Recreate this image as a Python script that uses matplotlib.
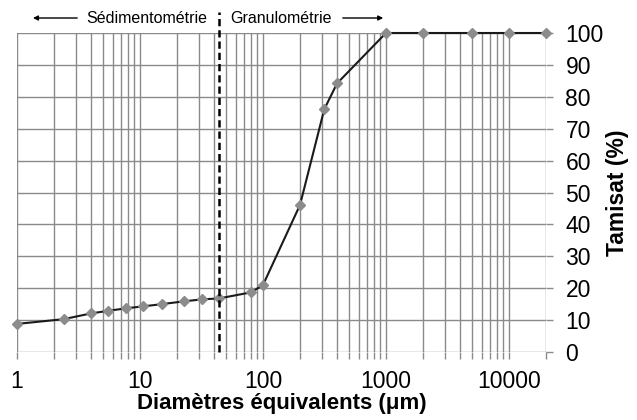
import matplotlib.pyplot as plt
from matplotlib.ticker import FixedLocator, NullFormatter

plt.rcParams['font.family'] = ['Liberation Sans', 'DejaVu Sans']

# sedimentometry points then sieve (granulometry) points
diam = [1, 2.4, 4, 5.5, 7.7, 10.6, 15, 23, 32, 44,
        80, 100, 200, 315, 400, 1000, 2000, 5000, 10000, 20000]
tamisat = [8.8, 10.3, 12.1, 12.9, 13.7, 14.3, 15.0, 15.9, 16.5, 16.8,
           18.7, 21, 46.1, 76.1, 84.2, 100, 100, 100, 100, 100]
limite = 44
xticks = [1, 10, 100, 1000, 10000]
xticklabels = ['1', '10', '100', '1000', '10000']
yticks = [0, 10, 20, 30, 40, 50, 60, 70, 80, 90, 100]

grid_col = '#8a8a8a'

fig = plt.figure(figsize=(6.37, 4.2), dpi=100)
ax = fig.add_axes([17/637, 1 - 352/420, (546 - 17)/637, (352 - 33)/420])
ax.set_xscale('log')
ax.set_xlim(1, 20000)
ax.set_ylim(0, 100)

ax.plot(diam, tamisat, color='#1a1a1a', lw=1.5, marker='D', ms=5.5,
        mfc='#8c8c8c', mec='#8c8c8c', clip_on=False, zorder=4)

ax.plot([limite, limite], [0, 106.6], color='black', lw=1.8,
        linestyle=(0, (2.9, 1.6)), clip_on=False, zorder=5)

ax.xaxis.set_major_locator(FixedLocator(xticks))
ax.set_xticklabels(xticklabels)
ax.xaxis.set_minor_formatter(NullFormatter())
ax.set_yticks(yticks)
ax.yaxis.tick_right()
ax.yaxis.set_label_position('right')

ax.grid(True, which='both', axis='x', color=grid_col, lw=1)
ax.grid(True, which='major', axis='y', color=grid_col, lw=1)
for s in ax.spines.values():
    s.set_visible(False)

ax.tick_params(axis='both', which='both', colors=grid_col, length=5, width=1,
               labelcolor='black', labelsize=16.5)
ax.tick_params(axis='x', which='major', pad=8)
ax.tick_params(axis='y', pad=9)
ax.tick_params(axis='y', which='minor', length=0)

ax.set_xlabel('Diamètres équivalents (μm)', fontsize=16, fontweight='bold', labelpad=0)
ax.set_ylabel('Tamisat (%)', fontsize=16.5, fontweight='bold', labelpad=2)

# annotations above the plot
ax.annotate('', xy=(1.28, 104.7), xytext=(3.25, 104.7),
            arrowprops=dict(arrowstyle='-|>', color='black', lw=1, mutation_scale=7),
            annotation_clip=False)
ax.text(35, 104.7, 'Sédimentométrie', ha='right', va='center', fontsize=11.5)
ax.text(54, 104.7, 'Granulométrie', ha='left', va='center', fontsize=11.5)
ax.annotate('', xy=(1000, 104.7), xytext=(423, 104.7),
            arrowprops=dict(arrowstyle='-|>', color='black', lw=1, mutation_scale=7),
            annotation_clip=False)

plt.savefig('out.png', dpi=100)
